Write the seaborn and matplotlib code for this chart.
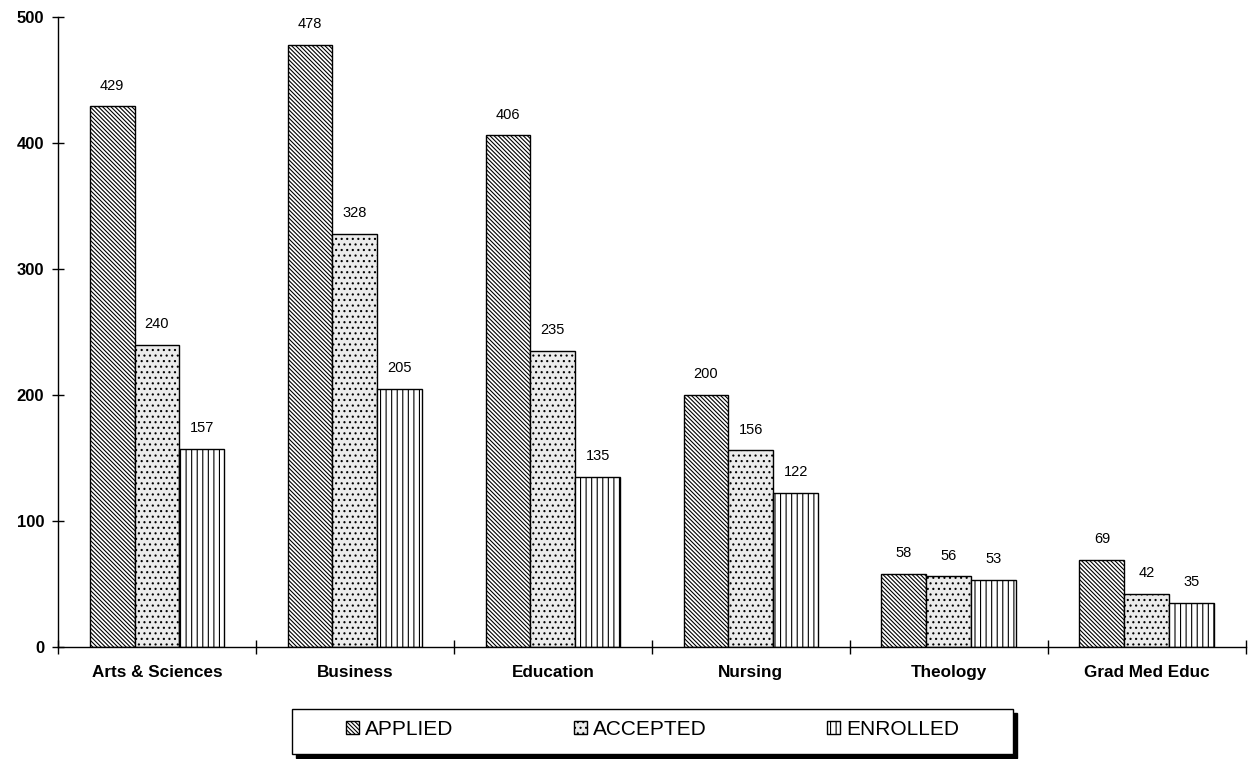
import pandas as pd
import matplotlib.pyplot as plt
import matplotlib.patches as mpatches
from matplotlib.ticker import FixedLocator
import seaborn as sns

# data
schools = ['Arts & Sciences', 'Business', 'Education', 'Nursing', 'Theology', 'Grad Med Educ']
applied = [429, 478, 406, 200, 58, 69]
accepted = [240, 328, 235, 156, 56, 42]
enrolled = [157, 205, 135, 122, 53, 35]
series = ['APPLIED', 'ACCEPTED', 'ENROLLED']

df = pd.DataFrame({
    'school': schools * 3,
    'status': [s for s in series for _ in schools],
    'count': applied + accepted + enrolled,
})

sns.set_style('white')
plt.rcParams['font.family'] = ['Liberation Sans', 'DejaVu Sans']
plt.rcParams['hatch.linewidth'] = 0.8
plt.rcParams['text.color'] = 'black'
plt.rcParams['xtick.color'] = 'black'
plt.rcParams['ytick.color'] = 'black'

fig = plt.figure(figsize=(12.49, 7.59), dpi=100)
ax = fig.add_axes([0.0464, 0.1476, 0.951, 0.830])

styles = {
    'APPLIED': dict(facecolor='white', hatch='\\\\\\\\\\\\\\\\'),
    'ACCEPTED': dict(facecolor='#ebebeb', hatch='...'),
    'ENROLLED': dict(facecolor='white', hatch='|||'),
}

sns.barplot(data=df, x='school', y='count', hue='status', hue_order=series,
            width=0.68, edgecolor='black', linewidth=1, legend=False, ax=ax)

for cont, name in zip(ax.containers, series):
    for bar in cont:
        bar.set_facecolor(styles[name]['facecolor'])
        bar.set_hatch(styles[name]['hatch'])
    ax.bar_label(cont, padding=10, fontsize=10.5, color='black')

# style of the axes
ax.set_xlim(-0.5, 5.5)
ax.set_ylim(0, 500)
ax.set_yticks([0, 100, 200, 300, 400, 500])
ax.set_xlabel('')
ax.set_ylabel('')
sns.despine(ax=ax)
for sp in ['left', 'bottom']:
    ax.spines[sp].set_color('black')
    ax.spines[sp].set_linewidth(1)
ax.tick_params(axis='y', left=True, direction='inout', length=8, width=1, labelsize=12, pad=6)
ax.tick_params(axis='x', which='major', bottom=False, length=0, labelsize=12.3, pad=13)
ax.xaxis.set_minor_locator(FixedLocator([i + 0.5 for i in range(-1, 6)]))
ax.tick_params(axis='x', which='minor', bottom=True, direction='inout', length=10, width=1)
for lbl in ax.get_xticklabels() + ax.get_yticklabels():
    lbl.set_fontweight('bold')

# legend box with a solid shadow, drawn in figure coordinates
x0, y0, w, h = 292 / 1249, 5 / 759, 721 / 1249, 45 / 759
fig.patches.append(mpatches.Rectangle((x0 + 4 / 1249, y0 - 4 / 759), w, h, transform=fig.transFigure,
                                      facecolor='black', edgecolor='black', zorder=1))
fig.patches.append(mpatches.Rectangle((x0, y0), w, h, transform=fig.transFigure,
                                      facecolor='white', edgecolor='black', linewidth=1, zorder=2))

handles = [mpatches.Patch(facecolor=styles[s]['facecolor'], hatch=styles[s]['hatch'],
                          edgecolor='black', label=s) for s in series]
leg = fig.legend(handles=handles, loc='center', bbox_to_anchor=(0.5225, 0.039),
                 ncol=3, frameon=False, fontsize=15,
                 handlelength=0.6, handleheight=0.6, handletextpad=0.3, columnspacing=5.8,
                 borderpad=0, borderaxespad=0)
leg.set_zorder(3)

fig.savefig('out.png', dpi=100)
